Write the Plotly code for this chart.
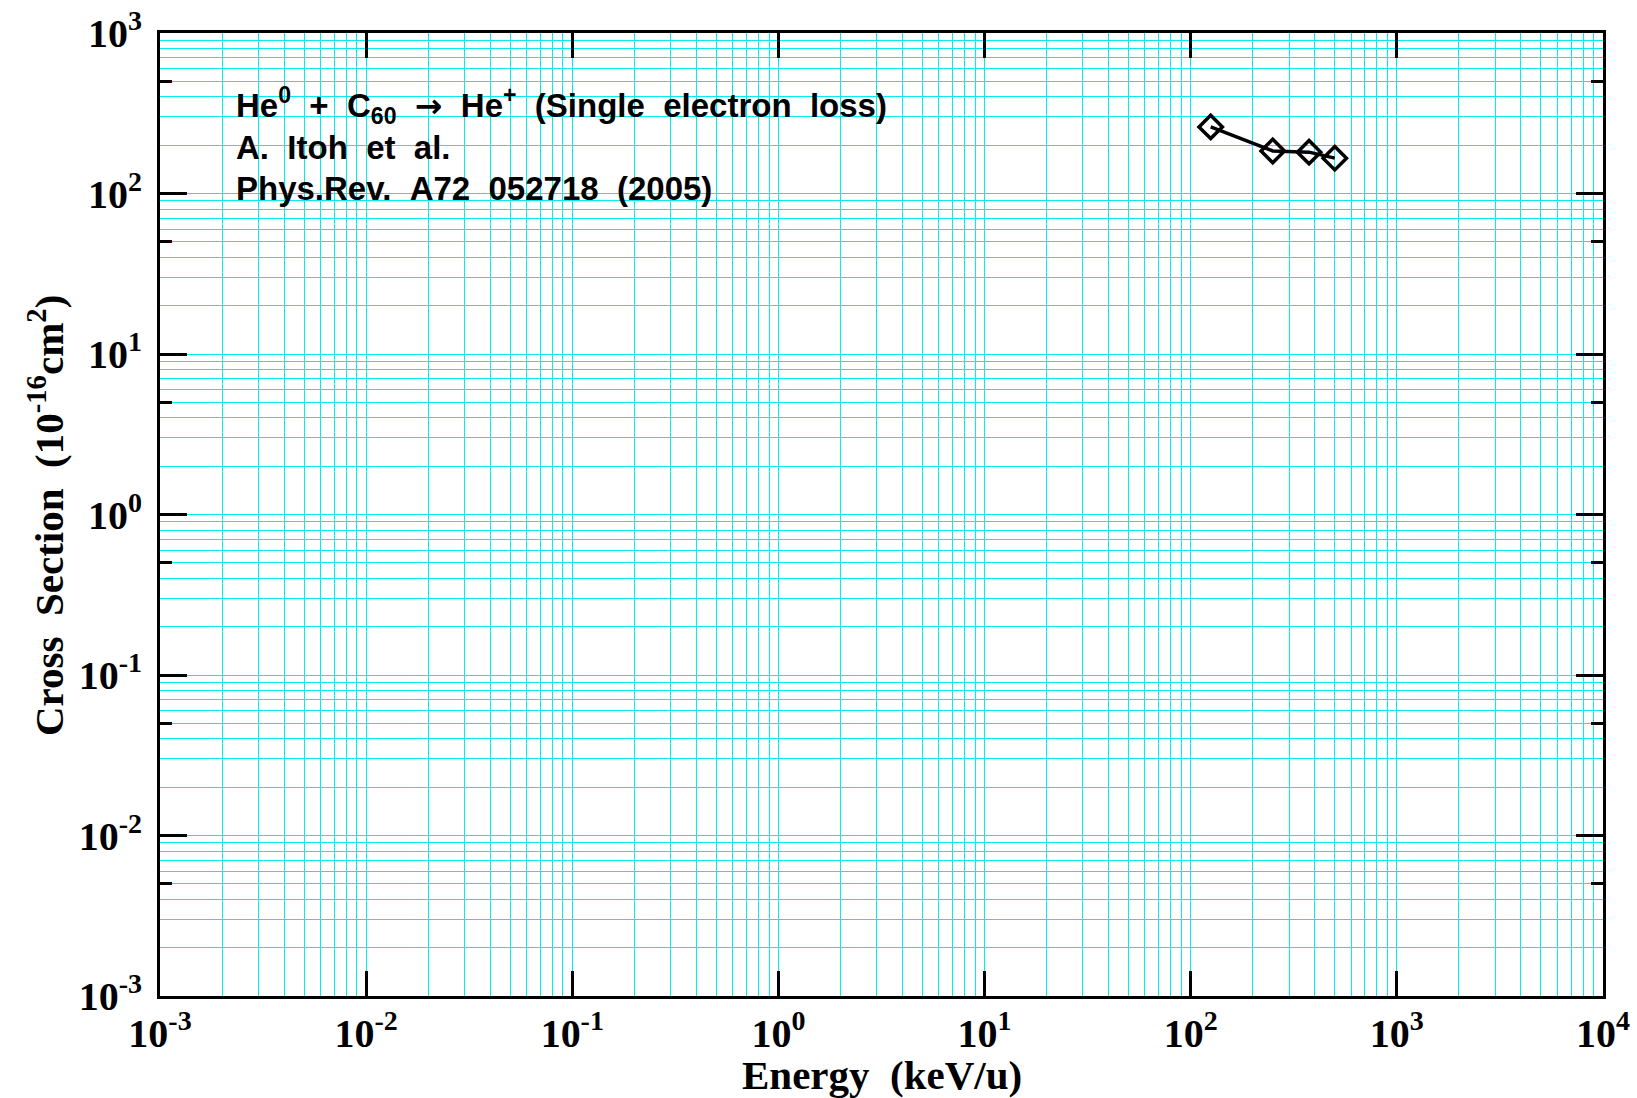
import numpy as np
import plotly.graph_objects as go

# Data
energy = [125, 250, 375, 500]          # keV/u
cross_section = [260, 184, 181, 166]   # 1e-16 cm^2

x_decades = [-3, -2, -1, 0, 1, 2, 3, 4]
y_decades = [-3, -2, -1, 0, 1, 2, 3]
x_ticktext = ["10<sup>%d</sup>" % d for d in x_decades]
y_ticktext = ["10<sup>%d</sup>" % d for d in y_decades]

x_title = "Energy\u00a0\u00a0(keV/u)"
y_title = "Cross\u00a0\u00a0Section\u00a0\u00a0(10<sup>-16</sup>cm<sup>2</sup>)"

annot_lines = [
    "He<sup>0</sup>\u00a0\u00a0+\u00a0\u00a0C<sub>60</sub>\u00a0\u00a0<span style=\"font-family:'DejaVu Sans'\">\u2192</span>\u00a0\u00a0He<sup>+</sup>\u00a0\u00a0(Single\u00a0\u00a0electron\u00a0\u00a0loss)",
    "A.\u00a0\u00a0Itoh\u00a0\u00a0et\u00a0\u00a0al.",
    "Phys.Rev.\u00a0\u00a0A72\u00a0\u00a0052718\u00a0\u00a0(2005)",
]

W, H = 1637, 1098
L, R, T, B = 160, 34, 33, 102
PW, PH = W - L - R, H - T - B
GRID = "#00EEEE"

def minor_vals(decs):
    out = []
    for d in decs[:-1]:
        for m in range(2, 10):
            out.append(m * 10.0 ** d)
    return out

def px_x(px):
    return (px - L) / PW

def px_y(py):
    return 1 - (py - T) / PH

xtick_font = dict(family="Liberation Serif", size=40, color="black", weight="bold")
ytick_font = dict(family="Liberation Serif", size=40, color="black", weight="bold")
title_font = dict(family="Liberation Serif", size=41, color="black", weight="bold")

fig = go.Figure()
fig.add_trace(go.Scatter(
    x=energy, y=cross_section, mode="lines+markers",
    line=dict(color="black", width=3.5),
    marker=dict(symbol="diamond-open", size=18, color="black", line=dict(width=3.5, color="black")),
    showlegend=False, cliponaxis=False))
# helper trace for the minor-tick axis
fig.add_trace(go.Scatter(x=[], y=[], yaxis="y2", showlegend=False))

fig.update_layout(
    width=W, height=H, margin=dict(l=L, r=R, t=T, b=B, autoexpand=False),
    paper_bgcolor="white", plot_bgcolor="white",
    xaxis=dict(
        type="log", range=[-3, 4], automargin=False,
        tickmode="array", tickvals=[10.0 ** d for d in x_decades], ticktext=x_ticktext,
        ticks="inside", ticklen=25, tickwidth=3, tickcolor="black",
        showline=True, linewidth=3, linecolor="black", mirror="ticks",
        showgrid=True, gridcolor=GRID, gridwidth=1,
        minor=dict(tickmode="array", tickvals=minor_vals(x_decades), showgrid=True,
                   gridcolor=GRID, gridwidth=1, ticks=""),
        tickfont=xtick_font, ticklabelstandoff=0,
        zeroline=False,
    ),
    yaxis=dict(
        type="log", range=[-3, 3], automargin=False,
        tickmode="array", tickvals=[10.0 ** d for d in y_decades], ticktext=y_ticktext,
        ticks="inside", ticklen=27, tickwidth=3, tickcolor="black",
        showline=True, linewidth=3, linecolor="black", mirror="ticks",
        showgrid=True, gridcolor=GRID, gridwidth=1,
        minor=dict(tickmode="array", tickvals=minor_vals(y_decades), showgrid=True,
                   gridcolor=GRID, gridwidth=1, ticks=""),
        tickfont=ytick_font, ticklabelstandoff=7,
        zeroline=False,
    ),
    yaxis2=dict(
        type="log", range=[-3, 3], overlaying="y", anchor="x", side="left", automargin=False,
        tickmode="array", tickvals=[5 * 10.0 ** d for d in y_decades[:-1]],
        ticks="inside", ticklen=12, tickwidth=3, tickcolor="black",
        showticklabels=False, showgrid=False, mirror="ticks",
        showline=True, linewidth=3, linecolor="black", zeroline=False,
    ),
)

# axis titles
fig.add_annotation(xref="paper", yref="paper", x=px_x(882), y=px_y(1075),
                   xanchor="center", yanchor="middle", showarrow=False,
                   text=x_title, font=title_font)
fig.add_annotation(xref="paper", yref="paper", x=px_x(46), y=px_y(516),
                   xanchor="center", yanchor="middle", showarrow=False, textangle=-90,
                   text=y_title, font=title_font)

baselines = [117, 159, 200]
for txt, bl in zip(annot_lines, baselines):
    ypix = bl - 12
    fig.add_annotation(
        xref="paper", yref="paper", x=px_x(234), y=px_y(ypix),
        xanchor="left", yanchor="middle", showarrow=False, text=txt, align="left",
        font=dict(family="Liberation Sans", size=33, color="black", weight="bold"))

fig.write_html("out.html")
